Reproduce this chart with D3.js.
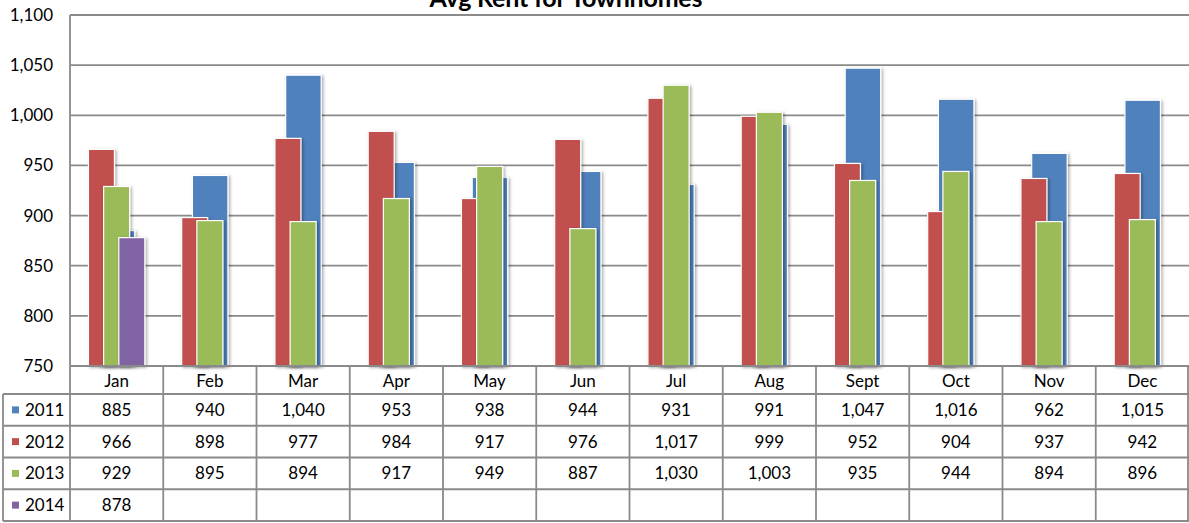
<!DOCTYPE html>
<html>
<head>
<meta charset="utf-8">
<script src="https://cdn.jsdelivr.net/npm/d3@7"></script>
<style>
  body { margin: 0; background: #fff; }
  svg { display: block; font-family: Lato, "Open Sans", sans-serif; }
</style>
</head>
<body>
<div id="chart"></div>
<script>
// data
var months = ["Jan", "Feb", "Mar", "Apr", "May", "Jun", "Jul", "Aug", "Sept", "Oct", "Nov", "Dec"]
var years = ["2011", "2012", "2013", "2014"]
var rent2011 = [885, 940, 1040, 953, 938, 944, 931, 991, 1047, 1016, 962, 1015]
var rent2012 = [966, 898, 977, 984, 917, 976, 1017, 999, 952, 904, 937, 942]
var rent2013 = [929, 895, 894, 917, 949, 887, 1030, 1003, 935, 944, 894, 896]
var rent2014 = [878]
var yTicks = [750, 800, 850, 900, 950, 1000, 1050, 1100]
var colors = ["#4F81BD", "#C0504D", "#9BBB59", "#8064A2"]

var series = [rent2011, rent2012, rent2013, rent2014]

var width = 1189
var height = 523
var plotLeft = 70, plotRight = 1189, plotTop = 15, axisY = 366
var tableLeft = 3, rowTop = 394, rowH = 31.75
var gridColor = "#8a8a8a"
var fontSize = 17

var svg = d3.select("#chart").append("svg")
    .attr("width", width)
    .attr("height", height)

var defs = svg.append("defs")
defs.append("filter")
    .attr("id", "shadow")
    .attr("x", "-30%").attr("y", "-10%").attr("width", "160%").attr("height", "130%")
    .append("feDropShadow")
    .attr("dx", 1.5).attr("dy", 1)
    .attr("stdDeviation", 1.6)
    .attr("flood-color", "#000")
    .attr("flood-opacity", 0.35)

var x = d3.scaleBand()
    .domain(months)
    .range([plotLeft, plotRight])

var y = d3.scaleLinear()
    .domain([750, 1100])
    .range([axisY, plotTop])

// 2012-2014 share the primary group (overlapping), 2011 sits behind on its own
var inner = d3.scalePoint()
    .domain(["2012", "2013", "2014"])
    .range([-15.2, 15.2])

var barW = 26
var backW = 35.5

// title (cut off at the top like the original)
svg.append("text")
    .attr("x", 566)
    .attr("y", 7)
    .attr("text-anchor", "middle")
    .attr("font-weight", "bold")
    .attr("font-size", 25)
    .attr("textLength", 273)
    .attr("lengthAdjust", "spacing")
    .text("Avg Rent for Townhomes")

// gridlines
svg.append("g")
    .selectAll("line")
    .data(yTicks.slice(1))
    .enter()
    .append("line")
    .attr("x1", plotLeft)
    .attr("x2", plotRight)
    .attr("y1", function (d) { return y(d) })
    .attr("y2", function (d) { return y(d) })
    .attr("stroke", gridColor)
    .attr("stroke-width", 1.8)

// y axis labels
svg.append("g")
    .selectAll("text")
    .data(yTicks)
    .enter()
    .append("text")
    .attr("x", 53)
    .attr("y", function (d) { return y(d) })
    .attr("dy", "0.35em")
    .attr("text-anchor", "end")
    .attr("font-size", fontSize)
    .attr("fill", "#000")
    .text(function (d) { return d3.format(",")(d) })

// bars
var bars = svg.append("g")

bars.selectAll("rect.y2011")
    .data(rent2011)
    .enter()
    .append("rect")
    .attr("class", "y2011")
    .attr("x", function (d, i) { return x(months[i]) + x.bandwidth() / 2 - backW / 2 + 0.3 })
    .attr("y", function (d) { return y(d) })
    .attr("width", backW)
    .attr("height", function (d) { return y(750) - y(d) })
    .attr("fill", colors[0])
    .attr("stroke", "#fff")
    .attr("stroke-width", 1.2)
    .attr("filter", "url(#shadow)")

for (var s = 1; s < series.length; s++) {
    var yr = years[s]
    bars.selectAll("rect.y" + yr)
        .data(series[s])
        .enter()
        .append("rect")
        .attr("class", "y" + yr)
        .attr("x", function (d, i) { return x(months[i]) + x.bandwidth() / 2 + inner(yr) - barW / 2 })
        .attr("y", function (d) { return y(d) })
        .attr("width", barW)
        .attr("height", function (d) { return y(750) - y(d) })
        .attr("fill", colors[s])
        .attr("stroke", "#fff")
        .attr("stroke-width", 1.2)
        .attr("filter", "url(#shadow)")
}

// axis lines
svg.append("line")
    .attr("x1", plotLeft).attr("x2", plotLeft)
    .attr("y1", plotTop).attr("y2", rowTop + rowH * 4)
    .attr("stroke", gridColor).attr("stroke-width", 1.8)
svg.append("line")
    .attr("x1", plotLeft).attr("x2", plotRight)
    .attr("y1", axisY).attr("y2", axisY)
    .attr("stroke", gridColor).attr("stroke-width", 1.8)

// data table
var table = svg.append("g")

// horizontal lines
var rowLines = d3.range(5).map(function (i) { return rowTop + i * rowH })
table.selectAll("line.h")
    .data(rowLines)
    .enter()
    .append("line")
    .attr("class", "h")
    .attr("x1", tableLeft)
    .attr("x2", plotRight)
    .attr("y1", function (d) { return d })
    .attr("y2", function (d) { return d })
    .attr("stroke", gridColor)
    .attr("stroke-width", 1.8)

// vertical lines
table.selectAll("line.v")
    .data(months.slice(1))
    .enter()
    .append("line")
    .attr("class", "v")
    .attr("x1", function (d) { return x(d) })
    .attr("x2", function (d) { return x(d) })
    .attr("y1", axisY)
    .attr("y2", rowTop + rowH * 4)
    .attr("stroke", gridColor)
    .attr("stroke-width", 1.8)

table.append("line")
    .attr("x1", tableLeft).attr("x2", tableLeft)
    .attr("y1", rowTop).attr("y2", rowTop + rowH * 4)
    .attr("stroke", gridColor).attr("stroke-width", 1.8)
table.append("line")
    .attr("x1", plotRight - 1).attr("x2", plotRight - 1)
    .attr("y1", axisY).attr("y2", rowTop + rowH * 4)
    .attr("stroke", gridColor).attr("stroke-width", 1.8)

// month headers
table.selectAll("text.month")
    .data(months)
    .enter()
    .append("text")
    .attr("class", "month")
    .attr("x", function (d) { return x(d) + x.bandwidth() / 2 })
    .attr("y", (axisY + rowTop) / 2 + 1)
    .attr("dy", "0.35em")
    .attr("text-anchor", "middle")
    .attr("font-size", fontSize)
    .text(function (d) { return d })

// legend keys + year labels
years.forEach(function (yr, s) {
    var cy = rowTop + rowH * s + rowH / 2
    table.append("rect")
        .attr("x", 12)
        .attr("y", cy - 3.5)
        .attr("width", 7)
        .attr("height", 7)
        .attr("fill", colors[s])
    table.append("text")
        .attr("x", 25)
        .attr("y", cy)
        .attr("dy", "0.35em")
        .attr("font-size", fontSize)
        .text(yr)

    table.selectAll("text.v" + yr)
        .data(series[s])
        .enter()
        .append("text")
        .attr("class", "v" + yr)
        .attr("x", function (d, i) { return x(months[i]) + x.bandwidth() / 2 })
        .attr("y", cy)
        .attr("dy", "0.35em")
        .attr("text-anchor", "middle")
        .attr("font-size", fontSize)
        .text(function (d) { return d3.format(",")(d) })
})
</script>
</body>
</html>
